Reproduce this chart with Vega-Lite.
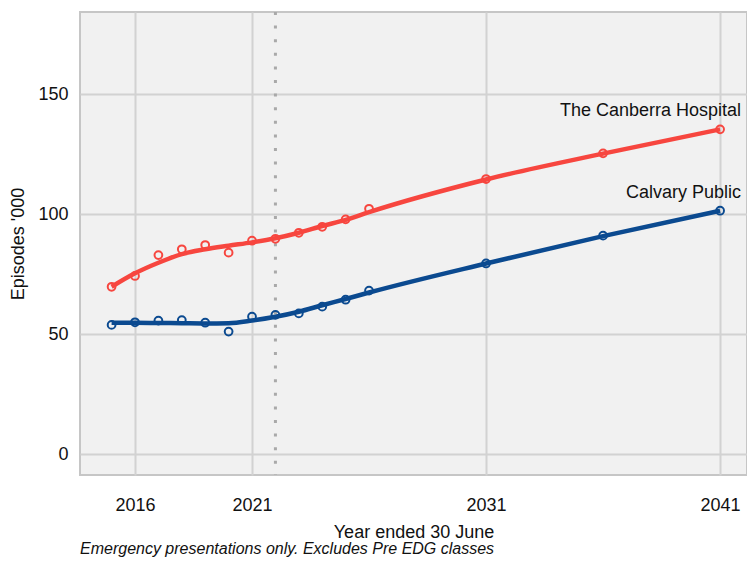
{
  "$schema": "https://vega.github.io/schema/vega-lite/v6.json",
  "width": 667,
  "height": 463,
  "autosize": {"type": "none"},
  "padding": {"left": 80, "top": 12, "right": 0, "bottom": 86},
  "background": "white",
  "config": {
    "font": "Liberation Sans",
    "view": {"fill": "#f1f1f1", "stroke": "#c6c6c6", "strokeWidth": 2}
  },
  "title": {
    "text": "Emergency presentations only. Excludes Pre EDG classes",
    "orient": "bottom",
    "anchor": "start",
    "frame": "group",
    "fontSize": 16,
    "fontStyle": "italic",
    "fontWeight": "normal",
    "color": "#111",
    "offset": 0
  },
  "datasets": {
    "points": [
      {"series": "The Canberra Hospital", "year": 2015, "value": 69.7},
      {"series": "The Canberra Hospital", "year": 2016, "value": 74.2},
      {"series": "The Canberra Hospital", "year": 2017, "value": 82.9},
      {"series": "The Canberra Hospital", "year": 2018, "value": 85.3},
      {"series": "The Canberra Hospital", "year": 2019, "value": 87.1},
      {"series": "The Canberra Hospital", "year": 2020, "value": 83.9},
      {"series": "The Canberra Hospital", "year": 2021, "value": 88.9},
      {"series": "The Canberra Hospital", "year": 2022, "value": 89.7},
      {"series": "The Canberra Hospital", "year": 2023, "value": 92.2},
      {"series": "The Canberra Hospital", "year": 2024, "value": 94.7},
      {"series": "The Canberra Hospital", "year": 2025, "value": 97.8},
      {"series": "The Canberra Hospital", "year": 2026, "value": 102.2},
      {"series": "The Canberra Hospital", "year": 2031, "value": 114.6},
      {"series": "The Canberra Hospital", "year": 2036, "value": 125.3},
      {"series": "The Canberra Hospital", "year": 2041, "value": 135.3},
      {"series": "Calvary Public", "year": 2015, "value": 53.8},
      {"series": "Calvary Public", "year": 2016, "value": 54.9},
      {"series": "Calvary Public", "year": 2017, "value": 55.6},
      {"series": "Calvary Public", "year": 2018, "value": 55.8},
      {"series": "Calvary Public", "year": 2019, "value": 54.7},
      {"series": "Calvary Public", "year": 2020, "value": 51.0},
      {"series": "Calvary Public", "year": 2021, "value": 57.2},
      {"series": "Calvary Public", "year": 2022, "value": 58.0},
      {"series": "Calvary Public", "year": 2023, "value": 58.6},
      {"series": "Calvary Public", "year": 2024, "value": 61.4},
      {"series": "Calvary Public", "year": 2025, "value": 64.3},
      {"series": "Calvary Public", "year": 2026, "value": 68.1},
      {"series": "Calvary Public", "year": 2031, "value": 79.4},
      {"series": "Calvary Public", "year": 2036, "value": 91.0},
      {"series": "Calvary Public", "year": 2041, "value": 101.4}
    ],
    "fit": [
      {"series": "The Canberra Hospital", "year": 2015, "value": 69.7},
      {"series": "The Canberra Hospital", "year": 2016, "value": 75.3},
      {"series": "The Canberra Hospital", "year": 2017, "value": 79.7},
      {"series": "The Canberra Hospital", "year": 2018, "value": 83.3},
      {"series": "The Canberra Hospital", "year": 2019, "value": 85.3},
      {"series": "The Canberra Hospital", "year": 2020, "value": 86.8},
      {"series": "The Canberra Hospital", "year": 2021, "value": 88.2},
      {"series": "The Canberra Hospital", "year": 2022, "value": 89.9},
      {"series": "The Canberra Hospital", "year": 2023, "value": 92.2},
      {"series": "The Canberra Hospital", "year": 2024, "value": 95.0},
      {"series": "The Canberra Hospital", "year": 2025, "value": 97.6},
      {"series": "The Canberra Hospital", "year": 2026, "value": 100.8},
      {"series": "The Canberra Hospital", "year": 2031, "value": 114.4},
      {"series": "The Canberra Hospital", "year": 2036, "value": 125.2},
      {"series": "The Canberra Hospital", "year": 2041, "value": 135.3},
      {"series": "Calvary Public", "year": 2015, "value": 54.7},
      {"series": "Calvary Public", "year": 2016, "value": 54.7},
      {"series": "Calvary Public", "year": 2017, "value": 54.6},
      {"series": "Calvary Public", "year": 2018, "value": 54.5},
      {"series": "Calvary Public", "year": 2019, "value": 54.4},
      {"series": "Calvary Public", "year": 2020, "value": 54.5},
      {"series": "Calvary Public", "year": 2021, "value": 55.6},
      {"series": "Calvary Public", "year": 2022, "value": 57.2},
      {"series": "Calvary Public", "year": 2023, "value": 59.3},
      {"series": "Calvary Public", "year": 2024, "value": 62.0},
      {"series": "Calvary Public", "year": 2025, "value": 64.6},
      {"series": "Calvary Public", "year": 2026, "value": 67.3},
      {"series": "Calvary Public", "year": 2031, "value": 79.4},
      {"series": "Calvary Public", "year": 2036, "value": 90.8},
      {"series": "Calvary Public", "year": 2041, "value": 101.4}
    ],
    "marker": [{"year": 2022}]
  },
  "encoding": {
    "x": {
      "field": "year",
      "type": "quantitative",
      "scale": {"domain": [2013.65, 2042.15], "nice": false, "zero": false},
      "axis": {
        "values": [2016, 2021, 2031, 2041],
        "format": "d",
        "title": "Year ended 30 June",
        "titleFontSize": 18,
        "titleFontWeight": "normal",
        "titleColor": "#111",
        "titlePadding": 9,
        "labelFontSize": 18,
        "labelColor": "#111",
        "labelPadding": 21,
        "ticks": false,
        "domain": false,
        "grid": true,
        "gridColor": "#d2d2d2",
        "gridWidth": 2
      }
    },
    "y": {
      "field": "value",
      "type": "quantitative",
      "scale": {"domain": [-8.75, 184.2], "nice": false, "zero": false},
      "axis": {
        "values": [0, 50, 100, 150],
        "title": "Episodes '000",
        "titleFontSize": 18,
        "titleFontWeight": "normal",
        "titleColor": "#111",
        "titlePadding": 10,
        "labelFontSize": 18,
        "labelColor": "#111",
        "labelPadding": 12,
        "ticks": false,
        "domain": false,
        "grid": true,
        "gridColor": "#d2d2d2",
        "gridWidth": 2
      }
    },
    "color": {
      "field": "series",
      "type": "nominal",
      "scale": {"domain": ["The Canberra Hospital", "Calvary Public"], "range": ["#f7463f", "#0b4a90"]},
      "legend": null
    }
  },
  "layer": [
    {
      "data": {"name": "marker"},
      "mark": {"type": "rule", "color": "#a9a9a9", "strokeWidth": 3, "strokeDash": [3, 10.6]},
      "encoding": {
        "y": {"value": 0},
        "y2": {"value": 463},
        "color": {"value": "#a9a9a9"}
      }
    },
    {
      "data": {"name": "fit"},
      "mark": {"type": "line", "strokeWidth": 4.5, "interpolate": "monotone"}
    },
    {
      "data": {"name": "points"},
      "mark": {"type": "point", "shape": "circle", "filled": false, "size": 60, "strokeWidth": 2, "opacity": 1}
    },
    {
      "data": {"name": "points"},
      "transform": [{"filter": "datum.year == 2041"}],
      "mark": {"type": "text", "align": "right", "dx": 21, "dy": -18, "fontSize": 18, "baseline": "middle"},
      "encoding": {
        "text": {"field": "series"},
        "color": {"value": "#111"}
      }
    }
  ]
}
